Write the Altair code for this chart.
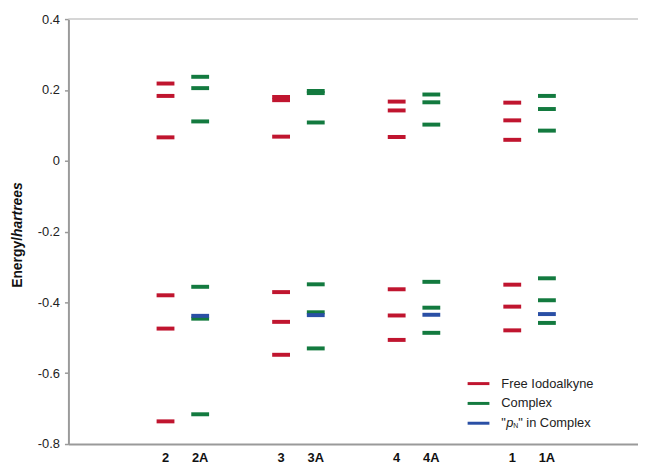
import altair as alt
import pandas as pd

# ---- data (energies in hartrees) ----
groups = ["2", "3", "4", "1"]
complex_names = ["2A", "3A", "4A", "1A"]

free_2 = [0.218, 0.183, 0.066, -0.380, -0.474, -0.736]
free_3 = [0.180, 0.171, 0.068, -0.371, -0.455, -0.548]
free_4 = [0.167, 0.142, 0.067, -0.363, -0.437, -0.506]
free_1 = [0.164, 0.114, 0.059, -0.350, -0.412, -0.479]

complex_2A = [0.237, 0.205, 0.111, -0.356, -0.446, -0.716]
complex_3A = [0.197, 0.191, 0.108, -0.349, -0.428, -0.530]
complex_4A = [0.187, 0.165, 0.102, -0.342, -0.415, -0.486]
complex_1A = [0.183, 0.146, 0.085, -0.332, -0.394, -0.458]

pn_2A = [-0.438]
pn_3A = [-0.436]
pn_4A = [-0.435]
pn_1A = [-0.433]

series_names = ["Free Iodoalkyne", "Complex", "pN"]
series_colors = ["#c0152f", "#137a3f", "#2a4fa5"]

free_sets = [free_2, free_3, free_4, free_1]
complex_sets = [complex_2A, complex_3A, complex_4A, complex_1A]
pn_sets = [pn_2A, pn_3A, pn_4A, pn_1A]

rows = []
for g, vals in zip(groups, free_sets):
    rows += [{"group": g, "slot": "free", "series": "Free Iodoalkyne", "energy": v} for v in vals]
for g, vals in zip(groups, complex_sets):
    rows += [{"group": g, "slot": "complex", "series": "Complex", "energy": v} for v in vals]
for g, vals in zip(groups, pn_sets):
    rows += [{"group": g, "slot": "complex", "series": "pN", "energy": v} for v in vals]
df = pd.DataFrame(rows)

labels_df = pd.DataFrame(
    [{"group": g, "slot": "free", "label": g} for g in groups]
    + [{"group": g, "slot": "complex", "label": c} for g, c in zip(groups, complex_names)]
)

W, H = 575, 429
FONT = "Liberation Sans, Arial, sans-serif"

x_enc = alt.X("group:N", sort=groups,
              scale=alt.Scale(domain=groups, paddingInner=0, paddingOuter=0.464, align=0.528),
              axis=alt.Axis(labels=False, ticks=False, title=None, domainColor="#9a9a9a",
                            domainWidth=2, grid=False))
xo_enc = alt.XOffset("slot:N", sort=["free", "complex"],
                     scale=alt.Scale(domain=["free", "complex"], paddingInner=0.494, paddingOuter=0.914))

y_enc = alt.Y("energy:Q",
              scale=alt.Scale(domain=[-0.8, 0.4], nice=False, zero=False),
              axis=alt.Axis(values=[-0.8, -0.6, -0.4, -0.2, 0, 0.2, 0.4],
                            labelExpr="datum.value == 0 ? '0' : (datum.value < 0 ? '-' + format(-datum.value, '.1f') : format(datum.value, '.1f'))",
                            title=None, grid=False, domainColor="#9a9a9a", domainWidth=2,
                            tickColor="#9a9a9a", tickSize=4, tickWidth=1.5,
                            labelFontSize=13, labelColor="#222222", labelPadding=5, labelFont=FONT))

levels = alt.Chart(df).mark_tick(orient="horizontal", size=18, thickness=4, opacity=1).encode(
    x=x_enc, xOffset=xo_enc, y=y_enc,
    color=alt.Color("series:N", scale=alt.Scale(domain=series_names, range=series_colors), legend=None),
)

cat_labels = alt.Chart(labels_df).mark_text(
    fontSize=13, fontWeight="bold", font=FONT, color="#111111", baseline="middle"
).encode(x=alt.X("group:N", sort=groups), xOffset=alt.XOffset("slot:N", sort=["free", "complex"]),
         y=alt.value(H + 14), text="label:N")

anno = pd.DataFrame({"a": [0]})
top_line = alt.Chart(anno).mark_rule(color="#c8c8c8", strokeWidth=1.5).encode(
    x=alt.value(0), x2=alt.value(W), y=alt.value(0))

title_a = alt.Chart(anno).mark_text(angle=270, align="right", baseline="middle", fontSize=14,
                                    fontWeight="bold", font=FONT, color="#111111").encode(
    x=alt.value(-51), y=alt.value(220), text=alt.value("Energy/"))
title_b = alt.Chart(anno).mark_text(angle=270, align="left", baseline="middle", fontSize=14,
                                    fontWeight="bold", fontStyle="italic", font=FONT, color="#111111").encode(
    x=alt.value(-51), y=alt.value(220), text=alt.value("hartrees"))

# custom legend
leg_layers = []
leg_y = [368, 388, 408]
LX = 403
for yy, col in zip(leg_y, series_colors):
    leg_layers.append(alt.Chart(anno).mark_rule(color=col, strokeWidth=3).encode(
        x=alt.value(LX), x2=alt.value(LX + 22), y=alt.value(yy)))
txt = dict(align="left", baseline="middle", fontSize=13, font=FONT, color="#222222")
leg_layers.append(alt.Chart(anno).mark_text(**txt).encode(
    x=alt.value(LX + 34), y=alt.value(leg_y[0]), text=alt.value("Free  Iodoalkyne")))
leg_layers.append(alt.Chart(anno).mark_text(**txt).encode(
    x=alt.value(LX + 34), y=alt.value(leg_y[1]), text=alt.value("Complex")))
leg_layers.append(alt.Chart(anno).mark_text(**txt).encode(
    x=alt.value(LX + 34), y=alt.value(leg_y[2]), text=alt.value('"')))
leg_layers.append(alt.Chart(anno).mark_text(fontStyle="italic", **txt).encode(
    x=alt.value(LX + 39), y=alt.value(leg_y[2]), text=alt.value("p")))
leg_layers.append(alt.Chart(anno).mark_text(align="left", baseline="middle", fontSize=7, font=FONT,
                                            color="#222222").encode(
    x=alt.value(LX + 46), y=alt.value(leg_y[2] + 3), text=alt.value("N")))
leg_layers.append(alt.Chart(anno).mark_text(**txt).encode(
    x=alt.value(LX + 51), y=alt.value(leg_y[2]), text=alt.value('" in Complex')))

chart = alt.layer(levels, cat_labels, top_line, title_a, title_b, *leg_layers).properties(
    width=W, height=H,
    padding={"left": 61, "top": 9, "right": 0, "bottom": 20},
    autosize=alt.AutoSizeParams(type="none"),
).configure_view(stroke=None)

chart.save("out.html", embed_options={"renderer": "svg", "actions": False})
